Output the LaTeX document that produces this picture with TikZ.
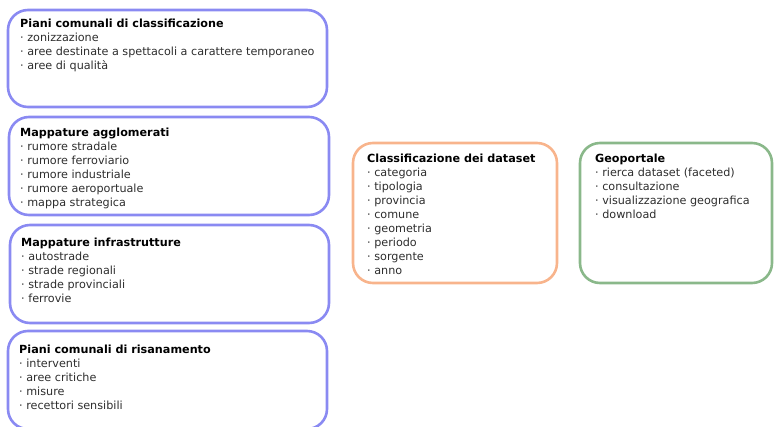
\documentclass[tikz,border=0pt]{standalone}
\usepackage{fontspec}
\setmainfont{DejaVu Sans}
\usepackage{tikz}

\definecolor{bordoblu}{RGB}{138,138,242}
\definecolor{bordoarancio}{RGB}{248,180,140}
\definecolor{bordoverde}{RGB}{138,184,138}
\definecolor{testogrigio}{RGB}{45,45,45}

\begin{document}
\begin{tikzpicture}[x=1pt,y=-1pt,
	riquadro/.style={draw, line width=2.6pt, rounded corners=20pt, anchor=north west, inner sep=0pt, outer sep=0pt},
	blu/.style={riquadro, draw=bordoblu},
	arancio/.style={riquadro, draw=bordoarancio},
	verde/.style={riquadro, draw=bordoverde},
	elenco/.style={anchor=north west, inner sep=0pt, align=left, text=testogrigio, font=\fontsize{11.2}{14}\selectfont}]
			\useasboundingbox (0,0) rectangle (774,426);
			% colonna di sinistra
			\node[blu, minimum width=319pt, minimum height=97pt] (classificazione) at (8,10) {};
			\node[blu, minimum width=320pt, minimum height=98pt] (agglomerati) at (9,117) {};
			\node[blu, minimum width=319pt, minimum height=98pt] (infrastrutture) at (10,225) {};
			\node[blu, minimum width=319pt, minimum height=98pt] (risanamento) at (8,331) {};
			% riquadri a destra
			\node[arancio, minimum width=204pt, minimum height=140pt] (dataset) at (353,143) {};
			\node[verde, minimum width=192pt, minimum height=140pt] (geoportale) at (580,143) {};
			% testi
			\node[elenco] (classificazionetxt) at (20,18.5) {\textcolor{black}{\textbf{Piani comunali di classificazione}}\\· zonizzazione\\· aree destinate a spettacoli a carattere temporaneo\\· aree di qualità};
			\node[elenco] (agglomeratitxt) at (20,127.5) {\textcolor{black}{\textbf{Mappature agglomerati}}\\· rumore stradale\\· rumore ferroviario\\· rumore industriale\\· rumore aeroportuale\\· mappa strategica};
			\node[elenco] (infrastrutturetxt) at (21,237.5) {\textcolor{black}{\textbf{Mappature infrastrutture}}\\· autostrade\\· strade regionali\\· strade provinciali\\· ferrovie};
			\node[elenco] (risanamentotxt) at (19,344.5) {\textcolor{black}{\textbf{Piani comunali di risanamento}}\\· interventi\\· aree critiche\\· misure\\· recettori sensibili};
			\node[elenco] (datasettxt) at (367,153.5) {\textcolor{black}{\textbf{Classificazione dei dataset}}\\· categoria\\· tipologia\\· provincia\\· comune\\· geometria\\· periodo\\· sorgente\\· anno};
			\node[elenco] (geoportaletxt) at (595,153.5) {\textcolor{black}{\textbf{Geoportale}}\\· rierca dataset (faceted)\\· consultazione\\· visualizzazione geografica\\· download};
\end{tikzpicture}
\end{document}
